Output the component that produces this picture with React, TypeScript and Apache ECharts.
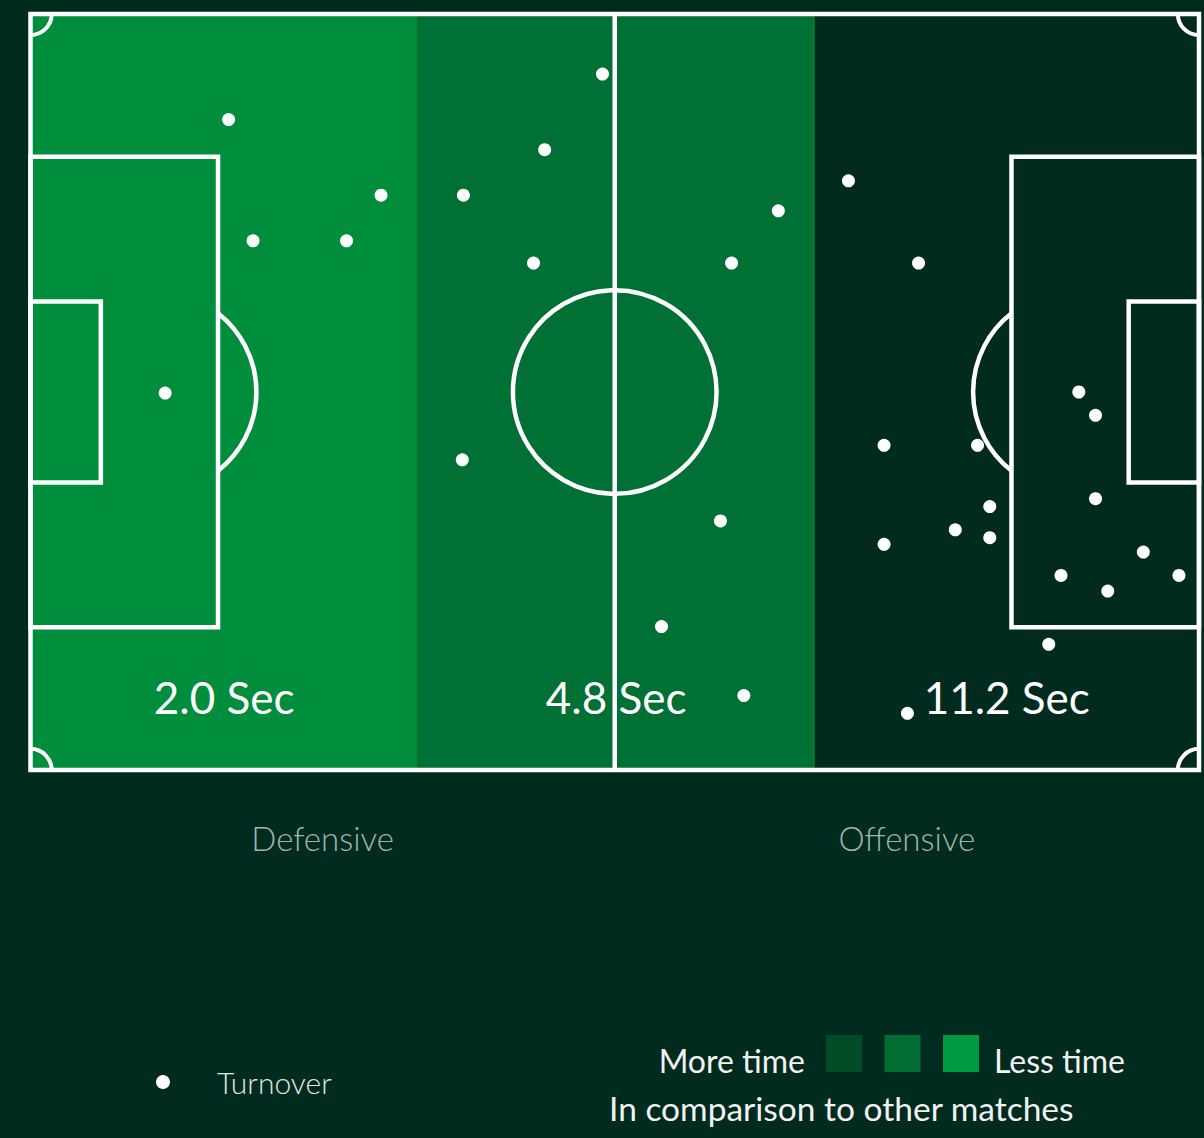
import React, { useEffect, useRef } from "react";
import * as echarts from "echarts";

// ---- data ----
const PITCH_LENGTH = 105;
const PITCH_WIDTH = 68;

const zoneStart = [0, 34.8, 70.45];
const zoneEnd = [34.8, 70.45, 105];
const zoneTime = ["2.0", "4.8", "11.2"];
const zoneColor = ["#008D3C", "#007034", "#002B1E"];

const halfLabels = ["Defensive", "Offensive"];

const turnoverX = [
  17.8, 20.0, 28.4, 31.5, 12.1, 38.9, 46.2, 51.4, 45.2, 38.8, 62.0, 56.7, 64.1,
  63.0, 67.2, 73.5, 79.8, 76.7, 85.1, 76.7, 83.1, 86.2, 86.2, 94.2, 95.7, 95.7,
  100.0, 92.6, 96.8, 103.2, 91.5, 78.8,
];
const turnoverY = [
  58.5, 47.6, 47.6, 51.7, 33.9, 51.7, 55.8, 62.6, 45.6, 27.9, 22.4, 12.9, 6.7,
  45.6, 50.3, 53.0, 45.6, 29.2, 29.2, 20.3, 21.6, 23.7, 20.9, 34.0, 31.9, 24.4,
  19.6, 17.5, 16.1, 17.5, 11.3, 5.1,
];

const legendScaleLabels = ["More time", "Less time"];
const legendScaleColors = ["#034B27", "#016E33", "#009B41"];
const legendNote = "In comparison to other matches";

const FONT = "Lato, 'Noto Sans', sans-serif";
const BG = "#002B1E";
const LINE = "#FFFFFF";

export default function App() {
  const ref = useRef<HTMLDivElement>(null);

  useEffect(() => {
    if (!ref.current) return;
    const chart = echarts.init(ref.current, null, { renderer: "svg" });

    const turnovers = turnoverX.map((x, i) => [x, turnoverY[i]]);
    const zones = zoneStart.map((s, i) => [s, zoneEnd[i], i]);

    const lw = 4.5;

    const option: any = {
      animation: false,
      backgroundColor: BG,
      grid: { left: 30.5, top: 14, width: 1168.5, height: 756, containLabel: false },
      xAxis: [
        { type: "value", min: 0, max: PITCH_LENGTH, show: false },
        {
          type: "category",
          data: halfLabels,
          position: "bottom",
          boundaryGap: true,
          axisLine: { show: false },
          axisTick: { show: false },
          splitLine: { show: false },
          axisLabel: {
            margin: 51,
            color: "#A3B5AB",
            fontFamily: FONT,
            fontWeight: 300,
            fontSize: 33,
          },
        },
      ],
      yAxis: { type: "value", min: 0, max: PITCH_WIDTH, show: false },
      legend: {
        data: [{ name: "Turnover", icon: "circle" }],
        left: 156,
        top: 1067,
        padding: 0,
        itemWidth: 98,
        itemHeight: 14,
        itemGap: 0,
        textStyle: {
          color: "#E2E6E4",
          fontFamily: FONT,
          fontWeight: 300,
          fontSize: 30,
          padding: [0, 0, 0, 0],
        },
      },
      series: [
        {
          type: "custom",
          name: "zones",
          z: 1,
          silent: true,
          data: zones,
          renderItem: (params: any, api: any) => {
            const s = api.value(0);
            const e = api.value(1);
            const i = api.value(2);
            const p0 = api.coord([s, PITCH_WIDTH]);
            const p1 = api.coord([e, 0]);
            const labelPos = api.coord([(s + e) / 2, 6.55]);
            const children: any[] = [
              {
                type: "rect",
                shape: { x: p0[0], y: p0[1], width: p1[0] - p0[0], height: p1[1] - p0[1] },
                style: { fill: zoneColor[i] },
              },
              {
                type: "text",
                z2: 10,
                style: {
                  text: zoneTime[i] + " Sec",
                  x: labelPos[0],
                  y: labelPos[1],
                  align: "center",
                  verticalAlign: "middle",
                  fill: "#FFFFFF",
                  font: `400 44px ${FONT}`,
                },
              },
            ];
            if (i === 1) {
              children.push({
                type: "line",
                shape: { x1: p1[0], y1: p0[1], x2: p1[0], y2: p1[1] },
                style: { stroke: "#009A3F", lineWidth: 2 },
              });
            }
            return { type: "group", children };
          },
        },
        {
          type: "custom",
          name: "pitch",
          z: 2,
          silent: true,
          data: [[0]],
          renderItem: (params: any, api: any) => {
            const L = PITCH_LENGTH;
            const W = PITCH_WIDTH;
            const c = (x: number, y: number) => api.coord([x, y]);
            const sx = (d: number) => api.size([d, 0])[0];
            const style = { stroke: LINE, lineWidth: lw, fill: "none" };
            const rect = (x0: number, y0: number, x1: number, y1: number) => {
              const a = c(x0, y1);
              const b = c(x1, y0);
              return {
                type: "rect",
                shape: { x: a[0], y: a[1], width: b[0] - a[0], height: b[1] - a[1] },
                style,
              };
            };
            const boxDepth = 16.85;
            const boxHalf = 21.16;
            const sixDepth = 6.32;
            const sixHalf = 8.14;
            const spot = 11.3;
            const arcR = 9.0;
            const centerR = 9.15;
            const cornerR = 1.9;
            const ang = Math.acos((boxDepth - spot) / arcR);
            const mid = W / 2;
            const children: any[] = [
              rect(0, mid - boxHalf, boxDepth, mid + boxHalf),
              rect(L - boxDepth, mid - boxHalf, L, mid + boxHalf),
              rect(0, mid - sixHalf, sixDepth, mid + sixHalf),
              rect(L - sixDepth, mid - sixHalf, L, mid + sixHalf),
              {
                type: "line",
                shape: { x1: c(L / 2, W)[0], y1: c(L / 2, W)[1], x2: c(L / 2, 0)[0], y2: c(L / 2, 0)[1] },
                style,
              },
              {
                type: "circle",
                shape: { cx: c(L / 2, mid)[0], cy: c(L / 2, mid)[1], r: sx(centerR) },
                style,
              },
              {
                type: "arc",
                shape: { cx: c(spot, mid)[0], cy: c(spot, mid)[1], r: sx(arcR), startAngle: -ang, endAngle: ang, clockwise: true },
                style,
              },
              {
                type: "arc",
                shape: { cx: c(L - spot, mid)[0], cy: c(L - spot, mid)[1], r: sx(arcR), startAngle: Math.PI - ang, endAngle: Math.PI + ang, clockwise: true },
                style,
              },
              {
                type: "arc",
                shape: { cx: c(0, W)[0], cy: c(0, W)[1], r: sx(cornerR), startAngle: 0, endAngle: Math.PI / 2, clockwise: true },
                style: { ...style, lineWidth: 4 },
              },
              {
                type: "arc",
                shape: { cx: c(L, W)[0], cy: c(L, W)[1], r: sx(cornerR), startAngle: Math.PI / 2, endAngle: Math.PI, clockwise: true },
                style: { ...style, lineWidth: 4 },
              },
              {
                type: "arc",
                shape: { cx: c(L, 0)[0], cy: c(L, 0)[1], r: sx(cornerR), startAngle: Math.PI, endAngle: (3 * Math.PI) / 2, clockwise: true },
                style: { ...style, lineWidth: 4 },
              },
              {
                type: "arc",
                shape: { cx: c(0, 0)[0], cy: c(0, 0)[1], r: sx(cornerR), startAngle: (3 * Math.PI) / 2, endAngle: 2 * Math.PI, clockwise: true },
                style: { ...style, lineWidth: 4 },
              },
              rect(0, 0, L, W),
            ];
            return { type: "group", children };
          },
        },
        {
          type: "scatter",
          name: "Turnover",
          z: 3,
          data: turnovers,
          symbol: "circle",
          symbolSize: 13,
          itemStyle: { color: "#FFFFFF", opacity: 1 },
        },
      ],
      graphic: [
        {
          type: "text",
          style: {
            text: legendScaleLabels[0],
            x: 805,
            y: 1060,
            align: "right",
            verticalAlign: "middle",
            fill: "#F2F2F2",
            font: `400 32px ${FONT}`,
          },
        },
        ...legendScaleColors.map((col, i) => ({
          type: "rect",
          shape: { x: 826 + i * 58.5, y: 1035, width: 36, height: 37 },
          style: { fill: col },
        })),
        {
          type: "text",
          style: {
            text: legendScaleLabels[1],
            x: 994,
            y: 1060,
            align: "left",
            verticalAlign: "middle",
            fill: "#F2F2F2",
            font: `400 32px ${FONT}`,
          },
        },
        {
          type: "text",
          style: {
            text: legendNote,
            x: 609,
            y: 1108,
            align: "left",
            verticalAlign: "middle",
            fill: "#F2F2F2",
            font: `400 33.5px ${FONT}`,
          },
        },
      ],
    };

    chart.setOption(option);
    return () => chart.dispose();
  }, []);

  return (
    <div
      ref={ref}
      style={{ position: "absolute", left: 0, top: 0, width: 1204, height: 1138 }}
    />
  );
}
